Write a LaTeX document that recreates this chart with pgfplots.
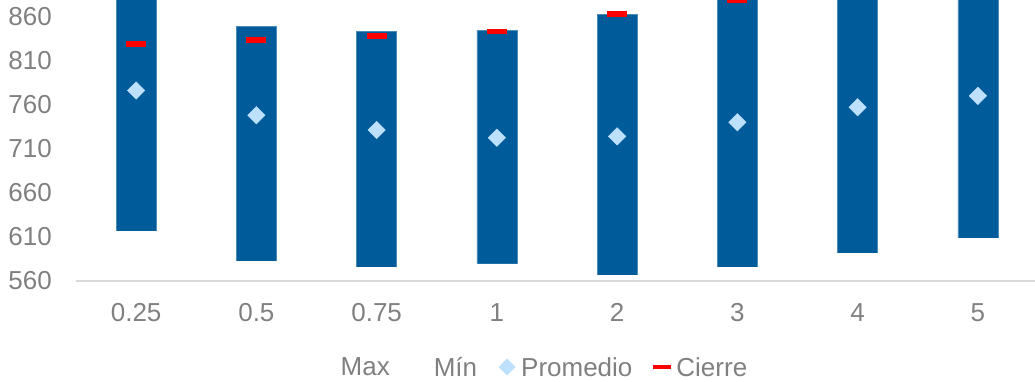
\documentclass[border=0pt]{standalone}
\usepackage{pgfplots}
\pgfplotsset{compat=1.18}
\usepackage{pgfplotstable}
\usepackage{fontspec}
\setmainfont{Liberation Sans}
\definecolor{barblue}{RGB}{0,91,155}
\definecolor{lightblue}{RGB}{189,224,252}
\definecolor{txtgray}{RGB}{128,128,128}
\definecolor{axgray}{RGB}{217,217,217}
\pgfplotstableread{
x  min    max    prom   cierre
0  616.7  900    776    829
1  582.3  849    748    833.5
2  575.5  842.8  731.3  838
3  579.3  843.9  722.5  843.2
4  566.5  862    724    863
5  575.5  900    740    878
6  591.4  900    757    890
7  608    900    770    895
}\datatable
\begin{document}
\begin{tikzpicture}
\begin{axis}[
  at={(76bp,101bp)}, anchor=south west,
  scale only axis, width=962bp, height=281bp,
  xmin=-0.5, xmax=7.5,
  ymin=560, ymax=878.7,
  xtick={0,...,7},
  xticklabels={0.25,0.5,0.75,1,2,3,4,5},
  ytick={560,610,...,860},
  /pgf/number format/assume math mode=true,
  /pgf/number format/1000 sep={},
  axis lines*=left,
  x axis line style={draw=axgray, line width=1.5bp, -},
  y axis line style={draw=none},
  tick style={draw=none},
  axis on top,
  clip=true,
  ticklabel style={font=\fontsize{26bp}{31bp}\selectfont, text=txtgray, inner sep=0pt},
  xticklabel style={anchor=north, yshift=-22bp},
  yticklabel style={anchor=east, xshift=-24bp},
  legend columns=4,
  legend style={
    at={(axis description cs:0.4745,-0.306)}, anchor=center,
    draw=none, fill=none,
    font=\fontsize{26bp}{31bp}\selectfont, text=txtgray,
    inner sep=0pt,
    /tikz/every odd column/.append style={column sep=5bp},
    /tikz/every even column/.append style={column sep=21bp},
    nodes={inner sep=0pt, text depth=0pt},
  },
  legend cell align=left,
]
% floating bars: blue up to Max, white cover up to Min
\addplot[ybar, bar width=40bp, fill=barblue, draw=barblue!70!white, line width=0.6bp, forget plot]
  table[x=x, y=max] {\datatable};
\addplot[ybar, bar width=44bp, fill=white, draw=white, forget plot]
  table[x=x, y=min] {\datatable};

\addlegendimage{legend image code/.code={\path[draw=none,fill=none] (0bp,-4bp) rectangle (18bp,4bp);}}
\addlegendentry{Max}
\addlegendimage{legend image code/.code={\path[draw=none,fill=none] (0bp,-4bp) rectangle (18bp,4bp);}}
\addlegendentry{Mín}

\addplot[only marks, mark=square*, mark size=6.2bp,
  mark options={rotate=45, fill=lightblue, draw=lightblue},
  legend image code/.code={\path[draw=none,fill=none] (0bp,-4bp) rectangle (18bp,4bp);
    \fill[lightblue, draw=none] (9bp,-8.5bp) -- (17.5bp,0bp) -- (9bp,8.5bp) -- (0.5bp,0bp) -- cycle;}]
  table[x=x, y=prom] {\datatable};
\addlegendentry{Promedio}

\addplot[only marks, mark=-, mark size=10bp,
  mark options={line width=5.5bp, draw=red},
  legend image code/.code={\fill[red, draw=none] (0bp,-2.3bp) rectangle (18bp,2.3bp);}]
  table[x=x, y=cierre] {\datatable};
\addlegendentry{Cierre}
\end{axis}
\pgfresetboundingbox
\path[use as bounding box] (0,0) rectangle (1035bp,382bp);
\end{tikzpicture}
\end{document}
